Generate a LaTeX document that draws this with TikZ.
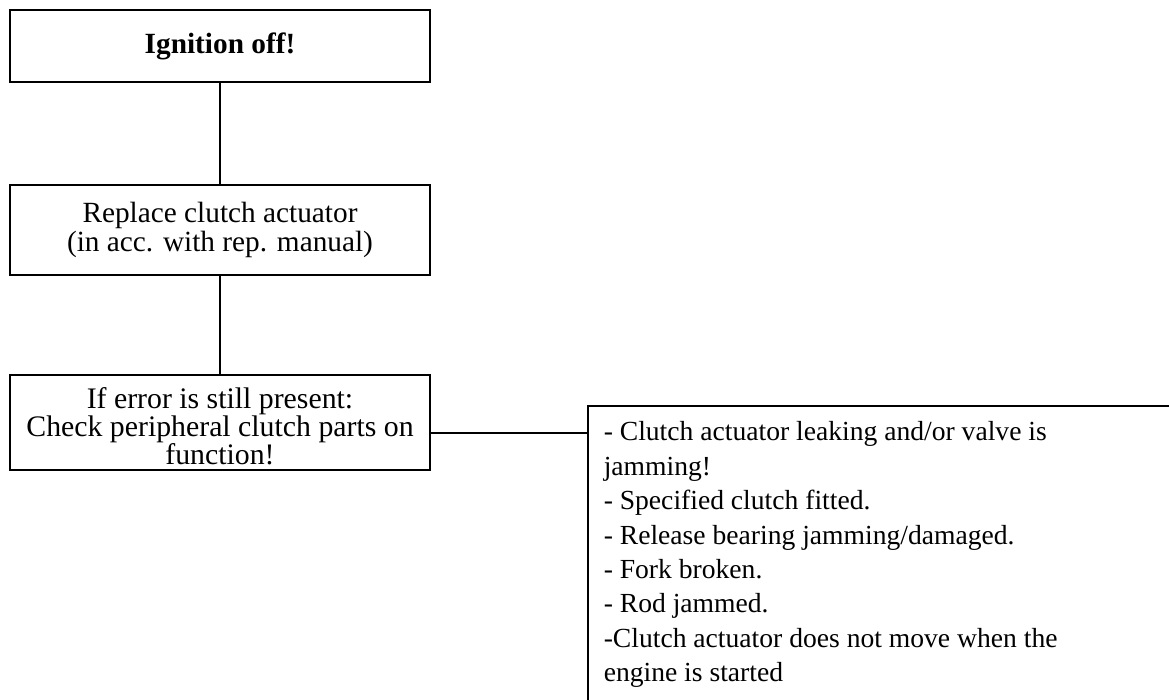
\documentclass[tikz,border=0pt]{standalone}
\usepackage{fontspec}
\setmainfont{Liberation Serif}
\begin{document}
\begin{tikzpicture}[x=1pt,y=-1pt,
  box/.style={draw, line width=1.5pt, align=center, inner sep=0pt, minimum width=420pt,
    font=\fontsize{29.3}{29}\selectfont},
  txt/.style={align=center, inner sep=0pt},
  listbox/.style={draw, line width=1.5pt, anchor=north west, inner xsep=16pt, inner ysep=8pt,
    text width=580pt, align=flush left, minimum height=298pt,
    font=\fontsize{27.6}{34.4}\selectfont},
  conn/.style={line width=1.5pt}]
\useasboundingbox (0,0) rectangle (1169,700);
\clip (0,0) rectangle (1169,700);
\node[box, minimum height=72pt] (b1) at (220,46) {\textbf{Ignition off!}};
\node[box, minimum height=90pt] (b2) at (220,230) {Replace clutch actuator\\(in acc. with rep. manual)};
\node[box, minimum height=95pt] (b3) at (220,422.5) {};
\node[txt, font=\fontsize{29.8}{27}\selectfont] (t3) at ([yshift=-4pt]b3.center) {If error is still present:\\Check peripheral clutch parts on\\function!};
\node[listbox] (b4) at (587,405) {- Clutch actuator leaking and/or valve is\\jamming!\\- Specified clutch fitted.\\- Release bearing jamming/damaged.\\- Fork broken.\\- Rod jammed.\\-Clutch actuator does not move when the\\engine is started};
\coordinate (c3) at ([yshift=-10.5pt]b3.east);
\draw[conn] (b1.south) -- (b2.north);
\draw[conn] (b2.south) -- (b3.north);
\draw[conn] (c3) -- (c3 -| b4.west);
\end{tikzpicture}
\end{document}
